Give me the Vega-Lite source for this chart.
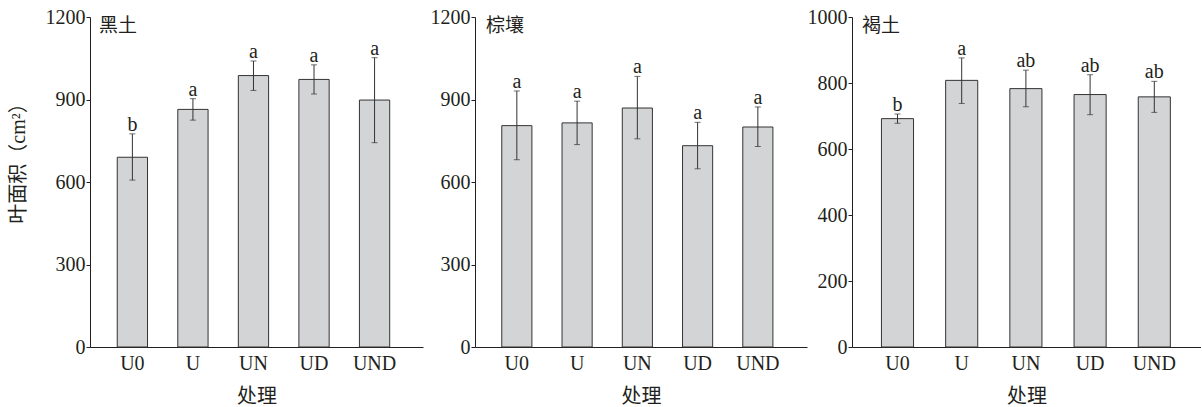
{
  "$schema": "https://vega.github.io/schema/vega-lite/v6.json",
  "padding": {"left": 8, "top": 7, "right": 0, "bottom": 0},
  "background": "white",
  "datasets": {
    "d": [
      {"soil": "黑土", "trt": "U0", "mean": 690, "lo": 607, "hi": 775, "letter": "b"},
      {"soil": "黑土", "trt": "U", "mean": 864, "lo": 825, "hi": 903, "letter": "a"},
      {"soil": "黑土", "trt": "UN", "mean": 987, "lo": 933, "hi": 1040, "letter": "a"},
      {"soil": "黑土", "trt": "UD", "mean": 973, "lo": 920, "hi": 1026, "letter": "a"},
      {"soil": "黑土", "trt": "UND", "mean": 898, "lo": 743, "hi": 1052, "letter": "a"},
      {"soil": "棕壤", "trt": "U0", "mean": 805, "lo": 681, "hi": 931, "letter": "a"},
      {"soil": "棕壤", "trt": "U", "mean": 815, "lo": 736, "hi": 894, "letter": "a"},
      {"soil": "棕壤", "trt": "UN", "mean": 869, "lo": 757, "hi": 984, "letter": "a"},
      {"soil": "棕壤", "trt": "UD", "mean": 732, "lo": 648, "hi": 817, "letter": "a"},
      {"soil": "棕壤", "trt": "UND", "mean": 800, "lo": 729, "hi": 873, "letter": "a"},
      {"soil": "褐土", "trt": "U0", "mean": 692, "lo": 678, "hi": 706, "letter": "b"},
      {"soil": "褐土", "trt": "U", "mean": 808, "lo": 738, "hi": 876, "letter": "a"},
      {"soil": "褐土", "trt": "UN", "mean": 783, "lo": 728, "hi": 839, "letter": "ab"},
      {"soil": "褐土", "trt": "UD", "mean": 765, "lo": 704, "hi": 825, "letter": "ab"},
      {"soil": "褐土", "trt": "UND", "mean": 758, "lo": 711, "hi": 805, "letter": "ab"}
    ]
  },
  "config": {
    "view": {"stroke": null},
    "axis": {
      "labelFont": "Liberation Serif",
      "labelFontSize": 20,
      "labelColor": "#231f20",
      "domainColor": "#231f20",
      "tickColor": "#231f20",
      "titleFont": "Liberation Serif, Noto Sans CJK SC",
      "titleFontSize": 20,
      "titleFontWeight": "normal",
      "titleColor": "#231f20",
      "grid": false
    },
    "axisX": {"ticks": false, "labelPadding": 6, "labelAngle": 0, "titlePadding": 13},
    "axisY": {"tickSize": 4, "labelPadding": 1, "titlePadding": 17, "format": "d"},
    "title": {"font": "Noto Sans CJK SC", "fontSize": 19, "fontWeight": "normal", "color": "#231f20", "anchor": "start", "frame": "group", "baseline": "top", "offset": -29}
  },
  "spacing": 7,
  "hconcat": [
    {
      "width": 333,
      "height": 330,
      "title": {"text": "黑土", "dx": 9},
      "data": {"name": "d"},
      "transform": [{"filter": "datum.soil === '黑土'"}],
      "encoding": {
        "x": {"field": "trt", "type": "nominal", "sort": ["U0", "U", "UN", "UD", "UND"],
              "scale": {"paddingInner": 0.5, "paddingOuter": 0.5, "align": 0.45},
              "axis": {"title": "处理"}}
      },
      "layer": [
        {"mark": {"type": "bar", "fill": "#d3d4d6", "stroke": "#333333", "strokeWidth": 1},
         "encoding": {"y": {"field": "mean", "type": "quantitative", "scale": {"domain": [0, 1200], "nice": false},
                            "axis": {"values": [0, 300, 600, 900, 1200], "title": "叶面积（cm²）", "titleY": 141}}}},
        {"mark": {"type": "errorbar", "color": "#333333", "ticks": {"size": 6}},
         "encoding": {"y": {"field": "lo", "type": "quantitative", "axis": {"values": [0, 300, 600, 900, 1200], "title": "叶面积（cm²）", "titleY": 141}}, "y2": {"field": "hi"}}},
        {"mark": {"type": "text", "baseline": "alphabetic", "dy": -3, "font": "Liberation Serif", "fontSize": 20, "color": "#231f20"},
         "encoding": {"y": {"field": "hi", "type": "quantitative", "axis": {"values": [0, 300, 600, 900, 1200], "title": "叶面积（cm²）", "titleY": 141}}, "text": {"field": "letter"}}}
      ]
    },
    {
      "spacing": 0,
      "hconcat": [
        {
          "width": 332,
          "height": 330,
          "title": {"text": "棕壤", "dx": 11},
          "data": {"name": "d"},
          "transform": [{"filter": "datum.soil === '棕壤'"}],
          "encoding": {
            "x": {"field": "trt", "type": "nominal", "sort": ["U0", "U", "UN", "UD", "UND"],
                  "scale": {"paddingInner": 0.5, "paddingOuter": 0.505, "align": 0.44},
                  "axis": {"title": "处理"}}
          },
          "layer": [
            {"mark": {"type": "bar", "fill": "#d3d4d6", "stroke": "#333333", "strokeWidth": 1},
             "encoding": {"y": {"field": "mean", "type": "quantitative", "scale": {"domain": [0, 1200], "nice": false},
                                "axis": {"values": [0, 300, 600, 900, 1200], "title": null}}}},
            {"mark": {"type": "errorbar", "color": "#333333", "ticks": {"size": 6}},
             "encoding": {"y": {"field": "lo", "type": "quantitative", "axis": {"values": [0, 300, 600, 900, 1200], "title": null}}, "y2": {"field": "hi"}}},
            {"mark": {"type": "text", "baseline": "alphabetic", "dy": -3, "font": "Liberation Serif", "fontSize": 20, "color": "#231f20"},
             "encoding": {"y": {"field": "hi", "type": "quantitative", "axis": {"values": [0, 300, 600, 900, 1200], "title": null}}, "text": {"field": "letter"}}}
          ]
        },
        {
          "width": 349,
          "height": 330,
          "title": {"text": "褐土", "dx": 10},
          "data": {"name": "d"},
          "transform": [{"filter": "datum.soil === '褐土'"}],
          "encoding": {
            "x": {"field": "trt", "type": "nominal", "sort": ["U0", "U", "UN", "UD", "UND"],
                  "scale": {"paddingInner": 0.5, "paddingOuter": 0.468, "align": 0.49},
                  "axis": {"title": "处理"}}
          },
          "layer": [
            {"mark": {"type": "bar", "fill": "#d3d4d6", "stroke": "#333333", "strokeWidth": 1},
             "encoding": {"y": {"field": "mean", "type": "quantitative", "scale": {"domain": [0, 1000], "nice": false},
                                "axis": {"values": [0, 200, 400, 600, 800, 1000], "title": null}}}},
            {"mark": {"type": "errorbar", "color": "#333333", "ticks": {"size": 6}},
             "encoding": {"y": {"field": "lo", "type": "quantitative", "axis": {"values": [0, 200, 400, 600, 800, 1000], "title": null}}, "y2": {"field": "hi"}}},
            {"mark": {"type": "text", "baseline": "alphabetic", "dy": -3, "font": "Liberation Serif", "fontSize": 20, "color": "#231f20"},
             "encoding": {"y": {"field": "hi", "type": "quantitative", "axis": {"values": [0, 200, 400, 600, 800, 1000], "title": null}}, "text": {"field": "letter"}}}
          ]
        }
      ]
    }
  ]
}
